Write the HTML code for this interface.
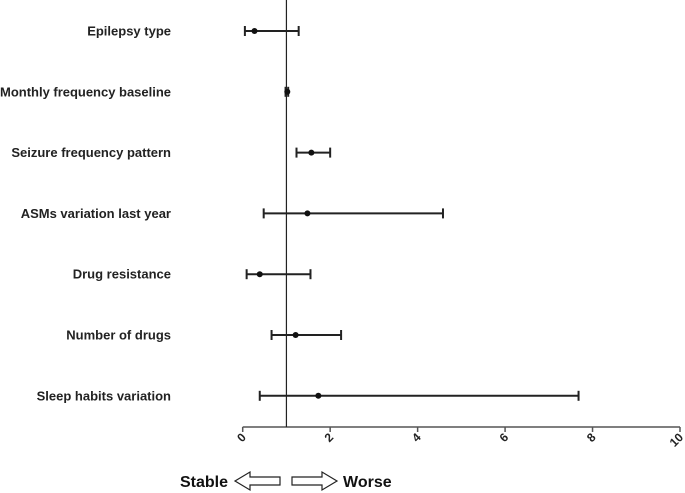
<!DOCTYPE html>
<html><head><meta charset="utf-8"><style>
html,body{margin:0;padding:0;background:#fff;}
svg{display:block;font-family:"Liberation Sans",Arial,sans-serif;}
</style></head><body>
<svg id="chart" width="685" height="493">
<g id="plot"></g>
<g>
<text x="180" y="487" font-size="16" font-weight="bold" fill="#111">Stable</text>
<polygon points="235,481 250,472 250,477 280,477 280,485 250,485 250,490" fill="#fff" stroke="#222" stroke-width="1.2"/>
<polygon points="337,481 322,472 322,477 292,477 292,485 322,485 322,490" fill="#fff" stroke="#222" stroke-width="1.2"/>
<text x="343" y="487" font-size="16" font-weight="bold" fill="#111">Worse</text>
</g>
</svg>
<script>
const categories=["Epilepsy type","Monthly frequency baseline","Seizure frequency pattern","ASMs variation last year","Drug resistance","Number of drugs","Sleep habits variation"];
const estimates=[0.27,1.02,1.57,1.48,0.39,1.21,1.73];
const lowerCI=[0.05,0.98,1.23,0.48,0.09,0.66,0.39];
const upperCI=[1.28,1.04,2.0,4.58,1.55,2.25,7.68];
const ticks=[0,2,4,6,8,10];
const refValue=1;
const NS="http://www.w3.org/2000/svg";
const g=document.getElementById('plot');
const x=v=>242.7+v*43.73;
const y=i=>31+i*60.8;
const axisY=427;
function mk(t,a){const e=document.createElementNS(NS,t);for(const k in a)e.setAttribute(k,a[k]);g.appendChild(e);return e;}
let e=mk('line',{x1:x(0),x2:x(10),y1:axisY,y2:axisY,stroke:'#555','stroke-width':1.5});


ticks.forEach(t=>{
 let l=mk('line',{x1:x(t),x2:x(t),y1:axisY,y2:axisY+5,stroke:'#555','stroke-width':1.5});
 
 
 const ax=x(t)+4, ay=axisY+11;
 let tx=mk('text',{x:ax,y:ay,'font-size':12,'font-weight':'bold',fill:'#222','text-anchor':'end',transform:`rotate(-45 ${ax} ${ay})`});
 tx.textContent=t;
 
 
});
e=mk('line',{x1:x(refValue),x2:x(refValue),y1:0,y2:axisY,stroke:'#222','stroke-width':1.2});


categories.forEach((c,i)=>{
 const yy=y(i);
 let t=mk('text',{x:171,y:yy+4.5,'font-size':13,'font-weight':'bold',fill:'#222','text-anchor':'end',textLength:c==="Monthly frequency baseline"?171:null});
 if(c!=="Monthly frequency baseline") t.removeAttribute('textLength');
 t.textContent=c;
 
 
 let l=mk('line',{x1:x(lowerCI[i]),x2:x(upperCI[i]),y1:yy,y2:yy,stroke:'#222','stroke-width':2});
 
 
 [lowerCI[i],upperCI[i]].forEach(v=>{
  let c2=mk('line',{x1:x(v),x2:x(v),y1:yy-5,y2:yy+5,stroke:'#222','stroke-width':2});
  
  
 });
 let p=mk('circle',{cx:x(estimates[i]),cy:yy,r:3,fill:'#111'});
 
 
});
</script>
</body></html>
